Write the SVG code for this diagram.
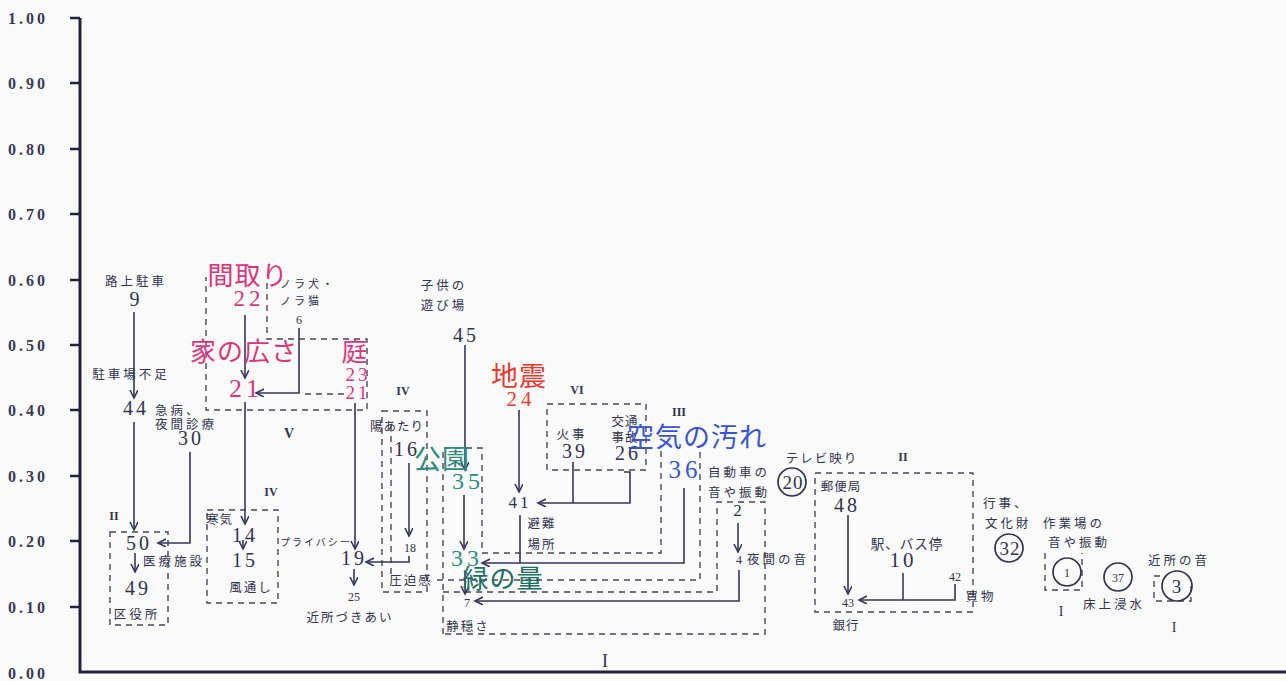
<svg xmlns="http://www.w3.org/2000/svg" width="1286" height="681" viewBox="0 0 1286 681">
<defs>
<style>
.bg{fill:#fafafa}
.ax{font-family:"Liberation Serif",serif;font-size:16px;fill:#3a3a55;letter-spacing:3px;font-weight:bold}
.axl{stroke:#22223f;stroke-width:3;fill:none}
.tk{stroke:#22223f;stroke-width:2.5}
.j{font-family:"Noto Sans CJK JP",sans-serif;font-size:12.5px;fill:#33334d;letter-spacing:3px;text-anchor:middle}
.js{font-family:"Noto Sans CJK JP",sans-serif;font-size:12.5px;fill:#33334d;letter-spacing:3px;text-anchor:start}
.jt{font-family:"Noto Sans CJK JP",sans-serif;font-size:10px;fill:#33334d;letter-spacing:2px;text-anchor:start}
.n{font-family:"Liberation Serif",serif;font-size:20px;fill:#33334d;letter-spacing:3px;text-anchor:middle}
.ns{font-family:"Liberation Serif",serif;font-size:12px;fill:#33334d;text-anchor:middle}
.nc{font-family:"Liberation Serif",serif;font-size:19px;fill:#33334d;letter-spacing:1px;text-anchor:middle}
.big{font-family:"Noto Sans CJK JP",sans-serif;font-size:26px;letter-spacing:1px;text-anchor:middle}
.bn{font-family:"Liberation Serif",serif;font-size:24px;letter-spacing:4px;text-anchor:middle}
.red{fill:#d9377a}
.red2{fill:#e8382f}
.blue{fill:#3a55cc}
.teal{fill:#2e8c7c}
.teal2{fill:#1f6e62}
.r{font-family:"Liberation Serif",serif;font-size:12px;font-weight:bold;fill:#33334d;text-anchor:middle}
.ln{stroke:#36365a;stroke-width:1.6;fill:none}
.dash{stroke:#45455a;stroke-width:1.4;stroke-dasharray:6 5;fill:none}
.cir{stroke:#33334d;stroke-width:1.7;fill:none}
</style>
<marker id="arr" markerWidth="10" markerHeight="10" refX="8" refY="4" orient="auto" markerUnits="userSpaceOnUse">
<path d="M0,0 L8,4 L0,8" fill="none" stroke="#36365a" stroke-width="1.6"/>
</marker>
</defs>
<rect class="bg" x="0" y="0" width="1286" height="681"/>

<g id="axes">
<path class="axl" d="M80,18 V672 H1286"/>
<g class="tk">
<line x1="70" y1="18" x2="80" y2="18"/>
<line x1="70" y1="83" x2="80" y2="83"/>
<line x1="70" y1="149" x2="80" y2="149"/>
<line x1="70" y1="214" x2="80" y2="214"/>
<line x1="70" y1="280" x2="80" y2="280"/>
<line x1="70" y1="345" x2="80" y2="345"/>
<line x1="70" y1="410" x2="80" y2="410"/>
<line x1="70" y1="476" x2="80" y2="476"/>
<line x1="70" y1="541" x2="80" y2="541"/>
<line x1="70" y1="607" x2="80" y2="607"/>
</g>
<text class="ax" x="8" y="24">1.00</text>
<text class="ax" x="8" y="89">0.90</text>
<text class="ax" x="8" y="155">0.80</text>
<text class="ax" x="8" y="220">0.70</text>
<text class="ax" x="8" y="286">0.60</text>
<text class="ax" x="8" y="351">0.50</text>
<text class="ax" x="8" y="416">0.40</text>
<text class="ax" x="8" y="482">0.30</text>
<text class="ax" x="8" y="547">0.20</text>
<text class="ax" x="8" y="613">0.10</text>
<text class="ax" x="8" y="679">0.00</text>
</g>

<g id="regions">
<rect class="dash" x="110" y="532" width="58" height="93"/>
<text class="r" x="114" y="520">II</text>
<rect class="dash" x="207" y="510" width="71" height="93"/>
<text class="r" x="271" y="496">IV</text>
<path class="dash" d="M267,283 V339 H367 V410 H206 V277"/>
<path class="dash" d="M305,394 H345"/>
<text class="r" x="289" y="438" style="font-size:14px">V</text>
<rect class="dash" x="382" y="411" width="45" height="181"/>
<path class="dash" d="M391,425 V578"/>
<text class="r" x="403" y="395">IV</text>
<rect class="dash" x="547" y="404" width="99" height="66"/>
<text class="r" x="577" y="394">VI</text>
<path class="dash" d="M443,634 V448 H482 V553 H661 V445"/>
<path class="dash" d="M437,580 H700 V448"/>
<path class="dash" d="M443,592 H717 V502 H765 V634 H443"/>
<text class="r" x="679" y="416">III</text>
<text class="r" x="605" y="667" style="font-size:18px;font-weight:normal">I</text>
<rect class="dash" x="815" y="473" width="158" height="139"/>
<text class="r" x="903" y="461">II</text>
<path class="dash" d="M1045,553 V590 H1082 V553"/>
<text class="r" x="1061" y="616" style="font-size:14px;font-weight:normal">I</text>
<path class="dash" d="M1160,576 H1154 V601 H1191 V580"/>
<text class="r" x="1174" y="632" style="font-size:14px;font-weight:normal">I</text>
</g>

<g id="connectors">
<path class="ln" d="M134,312 V398" marker-end="url(#arr)"/>
<path class="ln" d="M134,422 V530" marker-end="url(#arr)"/>
<path class="ln" d="M190,452 V543 H158" marker-end="url(#arr)"/>
<path class="ln" d="M135,553 V572" marker-end="url(#arr)"/>
<path class="ln" d="M245,315 V378" marker-end="url(#arr)"/>
<path class="ln" d="M299,328 V393 H256" marker-end="url(#arr)"/>
<path class="ln" d="M245,402 V524" marker-end="url(#arr)"/>
<path class="ln" d="M243,540 V549" marker-end="url(#arr)"/>
<path class="ln" d="M355,403 V549" marker-end="url(#arr)"/>
<path class="ln" d="M354,569 V585" marker-end="url(#arr)"/>
<path class="ln" d="M409,463 V536" marker-end="url(#arr)"/>
<path class="ln" d="M409,556 V562 H366" marker-end="url(#arr)"/>
<path class="ln" d="M465,345 V470" marker-end="url(#arr)"/>
<path class="ln" d="M464,495 V549" marker-end="url(#arr)"/>
<path class="ln" d="M465,571 V594" marker-end="url(#arr)"/>
<path class="ln" d="M519,410 V492" marker-end="url(#arr)"/>
<path class="ln" d="M573,462 V503"/>
<path class="ln" d="M624,472 H630 V503 H538" marker-end="url(#arr)"/>
<path class="ln" d="M520,515 V563"/>
<path class="ln" d="M684,488 V563 H482" marker-end="url(#arr)"/>
<path class="ln" d="M738,523 V552" marker-end="url(#arr)"/>
<path class="ln" d="M739,570 V601 H475" marker-end="url(#arr)"/>
<path class="ln" d="M848,515 V594" marker-end="url(#arr)"/>
<path class="ln" d="M903,573 V600"/>
<path class="ln" d="M955,584 V600 H859" marker-end="url(#arr)"/>
</g>

<g id="n9"><text class="j" x="136" y="286">路上駐車</text><text class="n" x="136" y="306">9</text></g>
<g id="n44"><text class="j" x="131" y="379">駐車場不足</text><text class="n" x="136" y="415">44</text></g>
<g id="n30"><text class="js" x="155" y="415">急病、</text><text class="js" x="155" y="429">夜間診療</text><text class="n" x="191" y="445">30</text></g>
<g id="n50"><text class="n" x="139" y="550">50</text><text class="js" x="143" y="566">医療施設</text></g>
<g id="n49"><text class="n" x="138" y="595">49</text><text class="j" x="137" y="619">区役所</text></g>
<g id="n14"><text class="js" x="206" y="524" style="letter-spacing:1px">寒気</text><text class="n" x="245" y="542">14</text></g>
<g id="n15"><text class="n" x="245" y="567">15</text><text class="j" x="251" y="592" style="letter-spacing:2px">風通し</text></g>
<g id="n22"><text class="big red" x="248" y="285">間取り</text><text class="bn red" x="249" y="306" style="font-size:23px">22</text></g>
<g id="n6"><text class="js" x="280" y="288" style="font-size:11px">ノラ犬・</text><text class="js" x="280" y="305" style="font-size:11px">ノラ猫</text><text class="ns" x="299" y="324">6</text></g>
<g id="n21"><text class="big red" x="244" y="361">家の広さ</text><text class="bn red" x="246" y="397" style="font-size:26px">21</text></g>
<g id="n23"><text class="big red" x="355" y="361">庭</text><text class="bn red" x="358" y="381" style="font-size:19px;letter-spacing:3px">23</text><text class="bn red" x="358" y="399" style="font-size:19px;letter-spacing:3px">21</text></g>
<g id="n19"><text class="jt" x="280" y="546">プライバシー</text><text class="n" x="354" y="565">19</text></g>
<g id="n25"><text class="ns" x="354" y="601">25</text><text class="j" x="350" y="622" style="letter-spacing:2px">近所づきあい</text></g>
<g id="n16"><text class="j" x="397" y="431" style="letter-spacing:1px">陽あたり</text><text class="n" x="407" y="456">16</text></g>
<g id="n18"><text class="ns" x="410" y="552">18</text><text class="j" x="411" y="585" style="letter-spacing:2px">圧迫感</text></g>
<g id="n45"><text class="j" x="444" y="290">子供の</text><text class="j" x="444" y="310">遊び場</text><text class="n" x="466" y="342">45</text></g>
<g id="n35"><text class="big teal" x="442" y="469" style="font-size:27px">公園</text><text class="bn teal" x="468" y="489">35</text></g>
<g id="n33"><text class="bn teal" x="467" y="566">33</text><text class="big teal2" x="503" y="588" style="font-size:26px">緑の量</text></g>
<g id="n7"><text class="ns" x="467" y="607">7</text><text class="j" x="468" y="631" style="letter-spacing:2px">静穏さ</text></g>
<g id="n24"><text class="big red2" x="519" y="386" style="font-size:27px">地震</text><text class="bn red2" x="521" y="406" style="font-size:21px">24</text></g>
<g id="n39"><text class="j" x="572" y="439">火事</text><text class="n" x="575" y="458">39</text></g>
<g id="n26"><text class="j" x="625" y="426" style="letter-spacing:1px">交通</text><text class="j" x="625" y="442" style="letter-spacing:1px">事故</text><text class="n" x="628" y="460">26</text></g>
<g id="n41"><text class="n" x="520" y="508" style="font-size:17px">41</text><text class="j" x="542" y="528" style="letter-spacing:2px">避難</text><text class="j" x="542" y="549" style="letter-spacing:2px">場所</text></g>
<g id="n36"><text class="big blue" x="697" y="447" style="font-size:27px">空気の汚れ</text><text class="bn blue" x="685" y="478" style="font-size:25px">36</text></g>
<g id="n2"><text class="j" x="739" y="477">自動車の</text><text class="j" x="739" y="497">音や振動</text><text class="n" x="739" y="516" style="font-size:17px">2</text></g>
<g id="n4"><text class="ns" x="739" y="564">4</text><text class="js" x="747" y="564">夜間の音</text></g>
<g id="n20"><text class="j" x="822" y="463" style="letter-spacing:2px">テレビ映り</text><circle class="cir" cx="792" cy="482" r="14"/><text class="nc" x="793" y="489">20</text></g>
<g id="n48"><text class="j" x="841" y="491" style="letter-spacing:1px">郵便局</text><text class="n" x="847" y="512">48</text></g>
<g id="n43"><text class="ns" x="848" y="607">43</text><text class="j" x="846" y="630" style="letter-spacing:1px">銀行</text></g>
<g id="n10"><text class="j" x="907" y="549" style="font-size:13.5px;letter-spacing:1px">駅、バス停</text><text class="n" x="903" y="567" style="font-size:21px">10</text></g>
<g id="n42"><text class="ns" x="955" y="581">42</text><text class="j" x="981" y="601">買物</text></g>
<g id="n32"><text class="js" x="983" y="508">行事、</text><text class="js" x="985" y="528">文化財</text><circle class="cir" cx="1009" cy="548" r="14"/><text class="nc" x="1010" y="555">32</text></g>
<g id="n1"><text class="js" x="1043" y="528">作業場の</text><text class="js" x="1048" y="547">音や振動</text><circle class="cir" cx="1067" cy="572" r="14"/><text class="ns" x="1067" y="577">1</text></g>
<g id="n37"><circle class="cir" cx="1118" cy="577" r="14"/><text class="ns" x="1118" y="582">37</text><text class="j" x="1114" y="609">床上浸水</text></g>
<g id="n3"><text class="js" x="1148" y="565">近所の音</text><circle class="cir" cx="1177" cy="586" r="15"/><text class="nc" x="1177" y="593">3</text></g>
</svg>
